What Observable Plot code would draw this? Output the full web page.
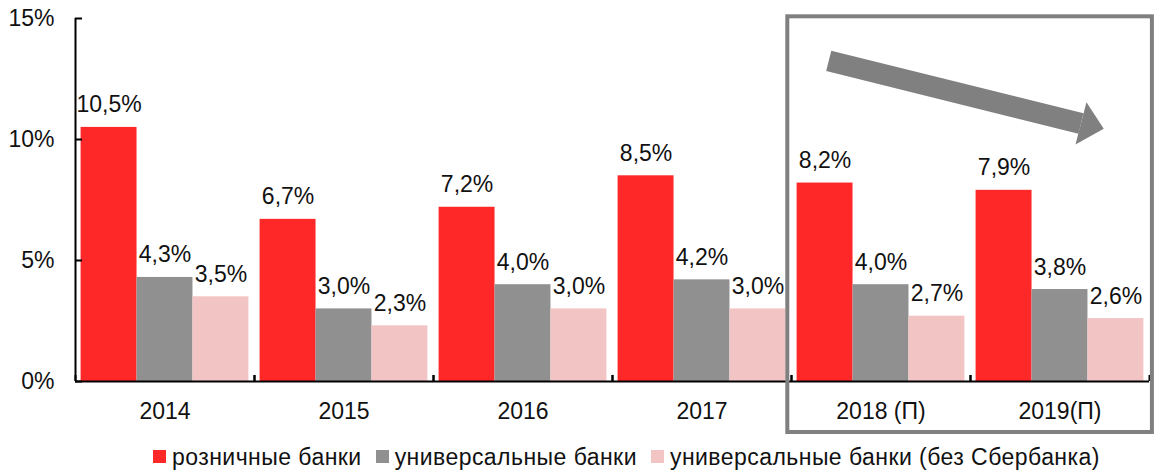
<!DOCTYPE html>
<html><head><meta charset="utf-8">
<script src="https://cdn.jsdelivr.net/npm/d3@7"></script>
<script src="https://cdn.jsdelivr.net/npm/@observablehq/plot@0.6"></script>
<style>
body{margin:0;background:#fff;font-family:"Liberation Sans",Arial,sans-serif;}
#chart svg{display:block;overflow:visible}
#legend{display:flex;align-items:center;margin-left:153px;font-size:23px;line-height:26px;padding-top:2px;color:#111;white-space:nowrap;letter-spacing:0.45px}
.item{display:flex;align-items:center;margin-right:14px}
.sw{width:13px;height:13px;margin-right:6px;position:relative;top:-1px}
</style></head><body>
<div id="chart"></div>
<div id="legend"></div>
<script>
const years = ["2014", "2015", "2016", "2017", "2018 (П)", "2019(П)"];
const seriesNames = ["розничные банки", "универсальные банки", "универсальные банки (без Сбербанка)"];
const retail = [10.5, 6.7, 7.2, 8.5, 8.2, 7.9];
const universal = [4.3, 3.0, 4.0, 4.2, 4.0, 3.8];
const universalNoSber = [3.5, 2.3, 3.0, 3.0, 2.7, 2.6];
const colors = ["#FF2828", "#909090", "#F2C4C4"];
const yTicks = [0, 5, 10, 15];

// annotation geometry (in facet "2018 (П)" coordinates)
const boxFacet = years[4];
const arrowShaft = [{x: 0.566, y: 13.25}, {x: 5.075, y: 10.66}];
const arrowHead = [{x: 5.173, y: 11.54}, {x: 5.482, y: 10.44}, {x: 4.977, y: 9.79}];

const table = years.flatMap((year, i) =>
  [retail[i], universal[i], universalNoSber[i]].map((v, j) => ({year, series: seriesNames[j], idx: j, value: v})));

const fmt = v => v.toFixed(1).replace(".", ",") + "%";
const txt = "#111";

const chart = Plot.plot({
  width: 1154, height: 442,
  marginTop: 18, marginBottom: 61, marginLeft: 74, marginRight: 5,
  fx: {domain: years, padding: 0, label: null},
  x: {domain: [-0.1, 3.1], axis: null},
  y: {domain: [0, 15]},
  color: {domain: seriesNames, range: colors},
  style: {fontFamily: '"Liberation Sans", Arial, sans-serif', fontSize: "23px", color: txt, background: "#fff", overflow: "visible"},
  marks: [
    Plot.rectY(table, {fx: "year", x1: "idx", x2: d => d.idx + 1, y: "value", fill: "series"}),
    Plot.text(table, {fx: "year", x: d => d.idx + 0.5, y: "value", text: d => fmt(d.value), dy: -15, lineAnchor: "bottom", fontSize: 23, fill: txt}),
    Plot.ruleY([0], {stroke: "#000", strokeWidth: 2}),
    Plot.ruleX([-0.1, 3.1], {y1: 0, y2: 0.25, stroke: "#000", strokeWidth: 2}),
    Plot.ruleX([{fx: years[0]}], {fx: "fx", x: -0.1, y1: 0, y2: 15, stroke: "#000", strokeWidth: 2}),
    Plot.ruleY(yTicks, {fx: () => years[0], x1: -0.1, x2: 0.025, y: d => d, stroke: "#000", strokeWidth: 2}),
    Plot.axisY({ticks: yTicks, tickSize: 0, tickPadding: 21, tickFormat: d => d + "%", fontSize: 23, label: null, color: txt}),
    Plot.axisFx({anchor: "bottom", tickSize: 0, tickPadding: 21, fontSize: 23, label: null, color: txt}),
    Plot.rect([{fx: boxFacet}], {fx: "fx", x1: -0.166, x2: 6.352, y1: -2.107, y2: 15.07, fill: "none", stroke: "#808080", strokeWidth: 4}),
    Plot.line(arrowShaft, {fx: () => boxFacet, x: "x", y: "y", stroke: "#808080", strokeWidth: 21, strokeLinecap: "butt"}),
    Plot.line(arrowHead, {fx: () => boxFacet, x: "x", y: "y", fill: "#808080", stroke: "none"})
  ]
});
document.getElementById("chart").append(chart);

const legend = document.getElementById("legend");
seriesNames.forEach((name, i) => {
  const item = document.createElement("span");
  item.className = "item";
  const sw = document.createElement("span");
  sw.className = "sw";
  sw.style.background = colors[i];
  const label = document.createElement("span");
  label.textContent = name;
  item.append(sw, label);
  legend.append(item);
});
</script>
</body></html>
